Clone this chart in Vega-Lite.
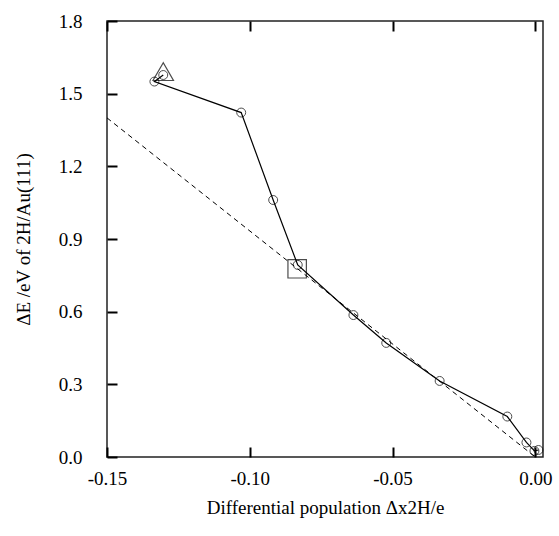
{
  "$schema": "https://vega.github.io/schema/vega-lite/v6.json",
  "width": 436,
  "height": 436,
  "autosize": {"type": "none"},
  "padding": {"left": 107, "top": 21, "right": 16, "bottom": 79},
  "background": "white",
  "config": {
    "view": {"stroke": "#222", "strokeWidth": 1.5},
    "font": "Liberation Serif",
    "axis": {"labelFont": "Liberation Serif", "titleFont": "Liberation Serif", "labelFontSize": 19, "titleFontSize": 19, "titleFontWeight": "normal", "labelColor": "#000", "titleColor": "#000", "grid": false, "domain": false, "labelFlush": false},
    "locale": {"number": {"decimal": ".", "thousands": ",", "grouping": [3], "currency": ["$", ""], "minus": "-"}}
  },
  "datasets": {
    "curve": [
      {"o": 1, "x": -0.1303, "y": 1.577},
      {"o": 2, "x": -0.1334, "y": 1.550},
      {"o": 3, "x": -0.1030, "y": 1.422},
      {"o": 4, "x": -0.0918, "y": 1.061},
      {"o": 5, "x": -0.0832, "y": 0.793},
      {"o": 6, "x": -0.0637, "y": 0.586},
      {"o": 7, "x": -0.0522, "y": 0.471},
      {"o": 8, "x": -0.0335, "y": 0.314},
      {"o": 9, "x": -0.0098, "y": 0.167},
      {"o": 10, "x": -0.0031, "y": 0.060},
      {"o": 11, "x": -0.0003, "y": 0.025},
      {"o": 12, "x": 0.0011, "y": 0.029}
    ],
    "fit": [{"x": -0.15, "y": 1.40}, {"x": 0.0, "y": 0.0}],
    "tri": [{"x": -0.1303, "y": 1.591}],
    "sq": [{"x": -0.0834, "y": 0.777}]
  },
  "layer": [
    {
      "data": {"name": "fit"},
      "mark": {"type": "line", "color": "#000", "strokeWidth": 1, "strokeDash": [5, 4]},
      "encoding": {
        "x": {"field": "x", "type": "quantitative", "scale": {"domain": [-0.15, 0.0027], "nice": false, "zero": false},
          "axis": {"orient": "bottom", "values": [-0.15, -0.1, -0.05, 0], "format": ".2f", "ticks": true, "tickSize": 10, "tickWidth": 2, "tickColor": "black", "offset": -10, "zindex": 1, "labelPadding": 12, "title": "Differential population Δx2H/e", "titlePadding": 10}},
        "y": {"field": "y", "type": "quantitative", "scale": {"domain": [0, 1.8], "nice": false, "zero": false},
          "axis": {"orient": "left", "values": [0, 0.3, 0.6, 0.9, 1.2, 1.5, 1.8], "format": ".1f", "ticks": true, "tickSize": 10, "tickWidth": 2, "tickColor": "black", "offset": -10, "zindex": 1, "labelPadding": 25, "title": "ΔE /eV of 2H/Au(111)", "titlePadding": 25}}
      }
    },
    {
      "data": {"name": "curve"},
      "mark": {"type": "line", "color": "#000", "strokeWidth": 1.2},
      "encoding": {
        "x": {"field": "x", "type": "quantitative", "axis": {"orient": "top", "values": [-0.15, -0.1, -0.05, 0], "labels": false, "title": null, "ticks": true, "tickSize": -10, "tickWidth": 2, "tickColor": "black", "zindex": 1}},
        "y": {"field": "y", "type": "quantitative", "axis": null},
        "order": {"field": "o"}
      }
    },
    {
      "data": {"name": "curve"},
      "mark": {"type": "point", "shape": "circle", "size": 80, "filled": false, "color": "#000", "strokeWidth": 1},
      "encoding": {
        "x": {"field": "x", "type": "quantitative", "axis": null},
        "y": {"field": "y", "type": "quantitative", "axis": null}
      }
    },
    {
      "data": {"name": "tri"},
      "mark": {"type": "point", "shape": "triangle-up", "size": 420, "filled": false, "color": "#000", "strokeWidth": 1.2},
      "encoding": {
        "x": {"field": "x", "type": "quantitative", "axis": null},
        "y": {"field": "y", "type": "quantitative", "axis": null}
      }
    },
    {
      "data": {"name": "sq"},
      "mark": {"type": "point", "shape": "square", "size": 340, "filled": false, "color": "#000", "strokeWidth": 1.2},
      "encoding": {
        "x": {"field": "x", "type": "quantitative", "axis": null},
        "y": {"field": "y", "type": "quantitative", "axis": null}
      }
    }
  ],
  "resolve": {"axis": {"x": "independent", "y": "independent"}}
}
